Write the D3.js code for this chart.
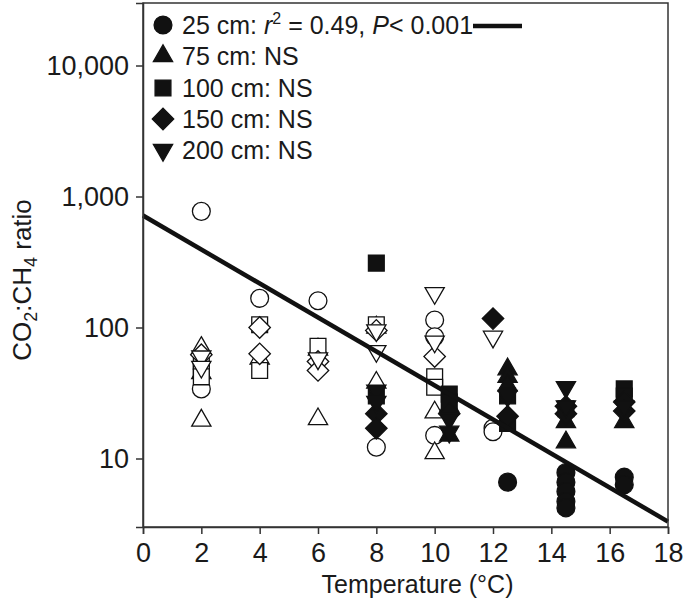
<!DOCTYPE html>
<html><head><meta charset="utf-8">
<script src="https://cdn.jsdelivr.net/npm/d3@7"></script>
<style>body{margin:0;background:#fff}svg{display:block}text{font-family:"Liberation Sans",Arial,Helvetica,sans-serif;fill:#1a1a1a}</style>
</head><body><svg id="c" width="685" height="608"></svg>
<script>
// ---- data ----
const xTicks = [0,2,4,6,8,10,12,14,16,18];
const yTicks = [10,100,1000,10000];
const yTickLabels = ["10","100","1,000","10,000"];
const depthLabels = ["25 cm","75 cm","100 cm","150 cm","200 cm"];
const depthShapes = ["circle","triangle","square","diamond","triangleDown"];
// regression line for 25 cm (temperature, ratio)
const fitLine = [[0,716],[18,3.3]];
// open symbols [temperature, ratio]
const circleOpen = [[2,770],[2,34],[4,167],[6,160],[8,12.2],[10,114],[10,85],[10,15],[12,17],[12,16]];
const triangleOpen = [[2,70],[2,45],[2,19.5],[4,58],[6,68],[6,20],[8,100],[8,38],[10,22.5],[10,11]];
const squareOpen = [[2,55],[2,48],[2,42],[4,105],[4,47],[6,72],[8,105],[10,42],[10,35]];
const diamondOpen = [[2,62],[4,100],[4,63],[6,55],[6,47],[8,95],[10,60]];
const triangleDownOpen = [[2,60],[2,50],[6,58],[8,95],[8,66],[10,183],[10,78],[12,85]];
// filled symbols
const circleFilled = [[12.5,6.6],[14.5,7.8],[14.5,6.6],[14.5,5.6],[14.5,4.7],[14.5,4.2],[16.5,7.2],[16.5,6.3]];
const triangleFilled = [[10.5,25],[10.5,15],[12.5,48],[12.5,42],[12.5,36],[14.5,19],[14.5,13.3],[16.5,19]];
const squareFilled = [[8,310],[8,30],[10.5,31],[10.5,27],[12.5,30],[12.5,18.5],[14.5,24],[16.5,34],[16.5,30]];
const diamondFilled = [[8,22],[8,17],[10.5,22],[12,117],[12.5,21],[14.5,25],[14.5,22],[16.5,27],[16.5,23]];
const triangleDownFilled = [[8,33],[8,27],[10.5,20],[10.5,16],[12.5,30],[14.5,35],[14.5,25],[16.5,25]];

// ---- chart ----
const svg = d3.select("#c");
const m = {l:143, r:668, t:3, b:527};
const x = d3.scaleLinear().domain([0,18]).range([m.l,m.r]);
const y = d3.scaleLog().domain([3,30000]).range([m.b,m.t]);

function shapePath(s){
  const gen = {
    circle: d3.symbol().type(d3.symbolCircle).size(250),
    triangle: d3.symbol().type(d3.symbolTriangle).size(160),
    triangleDown: d3.symbol().type(d3.symbolTriangle).size(160),
    square: d3.symbol().type(d3.symbolSquare).size(250),
    diamond: d3.symbol().type(d3.symbolSquare).size(230)
  }[s];
  return gen();
}
function shapeRot(s){ return s==="triangleDown"?180:(s==="diamond"?45:0); }

const series = [
  ["circle",circleOpen,false],["triangle",triangleOpen,false],["square",squareOpen,false],
  ["diamond",diamondOpen,false],["triangleDown",triangleDownOpen,false],
  ["circle",circleFilled,true],["triangle",triangleFilled,true],["square",squareFilled,true],
  ["diamond",diamondFilled,true],["triangleDown",triangleDownFilled,true]
];
const pts = svg.append("g");
series.forEach(([s,data,filled])=>{
  pts.selectAll(null).data(data).enter().append("path")
    .attr("d",shapePath(s))
    .attr("transform",d=>`translate(${x(d[0])},${y(d[1])}) rotate(${shapeRot(s)})`)
    .attr("fill",filled?"#111":"#fff")
    .attr("stroke","#111").attr("stroke-width",1.3);
});

// fit line
svg.append("path").datum(fitLine)
  .attr("d",d3.line().x(d=>x(d[0])).y(d=>y(d[1])))
  .attr("stroke","#111").attr("stroke-width",4.5).attr("fill","none");

// frame
svg.append("rect").attr("x",m.l).attr("y",m.t).attr("width",m.r-m.l).attr("height",m.b-m.t)
  .attr("fill","none").attr("stroke","#333").attr("stroke-width",1.5);

// axes
const xAxis = svg.append("g").attr("transform",`translate(0,${m.b})`)
  .call(d3.axisBottom(x).tickValues(xTicks).tickSize(7).tickPadding(5).tickFormat(d3.format("d")));
const yAxis = svg.append("g").attr("transform",`translate(${m.l},0)`)
  .call(d3.axisLeft(y).tickValues(yTicks).tickSize(7).tickPadding(7).tickFormat((d,i)=>yTickLabels[i]));
[xAxis,yAxis].forEach(a=>{
  a.select(".domain").attr("stroke","#333").attr("stroke-width",1.5);
  a.selectAll(".tick line").attr("stroke","#333").attr("stroke-width",1.5);
  a.selectAll(".tick text").style("font-family","Liberation Sans, Arial, sans-serif").attr("font-size",27).attr("fill","#1a1a1a");
});
xAxis.selectAll(".tick text").attr("dy","0.85em");
yAxis.selectAll(".tick text").attr("dy","0.35em");

// axis titles
svg.append("text").attr("x",(m.l+m.r)/2 + 12).attr("y",593).attr("text-anchor","middle")
  .attr("font-size",25).text("Temperature (°C)");
const yt = svg.append("text").attr("transform","translate(31,280) rotate(-90)")
  .attr("text-anchor","middle").attr("font-size",26);
yt.append("tspan").text("CO");
yt.append("tspan").attr("font-size",18).attr("dy",6).text("2");
yt.append("tspan").attr("dy",-6).text(":CH");
yt.append("tspan").attr("font-size",18).attr("dy",6).text("4");
yt.append("tspan").attr("dy",-6).text(" ratio");

// legend
const lg = svg.append("g");
const rowY = [25,56,88,119,150];
depthShapes.forEach((s,i)=>{
  lg.append("path").attr("d",shapePath(s))
    .attr("transform",`translate(163,${rowY[i]}) rotate(${shapeRot(s)})`)
    .attr("fill","#111").attr("stroke","#111").attr("stroke-width",1.3);
  const t = lg.append("text").attr("x",182).attr("y",rowY[i]).attr("dy","0.36em").attr("font-size",25);
  if(i===0){
    t.append("tspan").text(depthLabels[i]+": ");
    t.append("tspan").attr("font-style","italic").text("r");
    t.append("tspan").attr("font-size",16).attr("dy",-10).text("2");
    t.append("tspan").attr("dy",10).text(" = 0.49, ");
    t.append("tspan").attr("font-style","italic").text("P");
    t.append("tspan").text("< 0.001");
  } else {
    t.text(depthLabels[i]+": NS");
  }
});
lg.append("line").attr("x1",473).attr("x2",522).attr("y1",26).attr("y2",26)
  .attr("stroke","#111").attr("stroke-width",4.5);
</script></body></html>
